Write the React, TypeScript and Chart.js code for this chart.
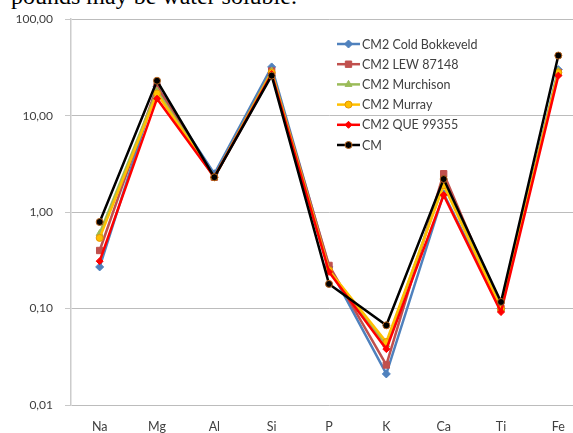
import React, { useEffect, useRef } from "react";
import { Chart, registerables } from "chart.js";
import { drawPoint } from "chart.js/helpers";

Chart.register(...registerables);

const categories = ["Na", "Mg", "Al", "Si", "P", "K", "Ca", "Ti", "Fe"];
const coldBokkeveld = [0.27, 20, 2.5, 32, 0.27, 0.021, 1.55, 0.1, 30];
const lew87148 = [0.4, 20, 2.3, 29, 0.28, 0.026, 2.5, 0.1, 28];
const murchison = [0.6, 18, 2.3, 29, 0.25, 0.042, 2.0, 0.1, 29];
const murray = [0.54, 17, 2.3, 28, 0.25, 0.045, 1.9, 0.1, 28];
const que99355 = [0.31, 15, 2.3, 27, 0.24, 0.038, 1.5, 0.092, 26];
const cm = [0.79, 23, 2.3, 26, 0.18, 0.067, 2.2, 0.117, 42];
const yTicks = [0.01, 0.1, 1, 10, 100];

const seriesNames = [
  "CM2 Cold Bokkeveld",
  "CM2 LEW 87148",
  "CM2 Murchison",
  "CM2 Murray",
  "CM2 QUE 99355",
  "CM",
];

const FONT = "Lato, 'Open Sans', sans-serif";

export default function App() {
  const ref = useRef<HTMLCanvasElement | null>(null);

  useEffect(() => {
    const canvas = ref.current;
    if (!canvas) return;
    const styles = [
      { c: "#4f81bd", b: "#4f81bd", s: "rectRot", r: 4 },
      { c: "#c0504d", b: "#c0504d", s: "rect", r: 4.5 },
      { c: "#9bbb59", b: "#9bbb59", s: "triangle", r: 4 },
      { c: "#ffc000", b: "#e69500", s: "circle", r: 3.5 },
      { c: "#ff0000", b: "#ff0000", s: "rectRot", r: 3.5 },
      { c: "#000000", b: "#b8651e", s: "circle", r: 3.5 },
    ];
    const values = [coldBokkeveld, lew87148, murchison, murray, que99355, cm];
    const datasets = values.map((d, i) => ({
      label: seriesNames[i],
      data: d,
      borderColor: styles[i].c,
      backgroundColor: styles[i].c,
      pointBackgroundColor: styles[i].c,
      pointBorderColor: styles[i].b,
      pointBorderWidth: 1,
      pointStyle: styles[i].s as any,
      pointRadius: styles[i].r,
      borderWidth: 2.5,
      tension: 0,
      order: 5 - i,
    }));

    const legendPlugin = {
      id: "customLegend",
      afterDraw(chart: any) {
        const ctx = chart.ctx;
        ctx.save();
        const x0 = 337;
        const y0 = 44;
        const dy = 20.2;
        datasets.forEach((ds, i) => {
          const y = y0 + i * dy;
          ctx.strokeStyle = ds.borderColor;
          ctx.lineWidth = 2.5;
          ctx.beginPath();
          ctx.moveTo(x0, y);
          ctx.lineTo(x0 + 23, y);
          ctx.stroke();
          ctx.fillStyle = ds.pointBackgroundColor;
          ctx.strokeStyle = ds.pointBorderColor;
          ctx.lineWidth = 1;
          drawPoint(ctx, { pointStyle: ds.pointStyle, radius: ds.pointRadius, rotation: 0, borderWidth: 1 } as any, x0 + 11.5, y);
          ctx.fillStyle = "#404040";
          ctx.font = `12.5px ${FONT}`;
          ctx.textBaseline = "middle";
          ctx.textAlign = "left";
          ctx.fillText(ds.label, x0 + 25, y + 0.5);
        });
        ctx.restore();
      },
    };

    const chart = new Chart(canvas, {
      type: "line",
      data: { labels: categories, datasets },
      plugins: [legendPlugin],
      options: {
        animation: false,
        responsive: false,
        devicePixelRatio: 1,
        layout: { padding: { left: 0, right: 13, top: 19, bottom: 0 } },
        plugins: { legend: { display: false }, tooltip: { enabled: false } },
        scales: {
          x: {
            offset: true,
            grid: { display: false, drawTicks: false },
            border: { display: false },
            ticks: { color: "#404040", font: { family: FONT, size: 12.5 }, padding: 14, maxRotation: 0 },
            afterFit: (s: any) => {
              s.height = 28;
            },
          },
          y: {
            type: "logarithmic",
            min: 0.01,
            max: 100,
            afterBuildTicks: (s: any) => {
              s.ticks = yTicks.map((v) => ({ value: v }));
            },
            afterFit: (s: any) => {
              s.width = 71;
            },
            grid: {
              color: "#bcbcbc",
              lineWidth: 1,
              borderDash: [2, 2],
              tickLength: 6,
              tickColor: "#c8c8c8",
              tickBorderDash: [],
            } as any,
            border: { display: true, color: "#cccccc", width: 1.5 },
            ticks: {
              color: "#404040",
              font: { family: FONT, size: 12 },
              padding: 12,
              autoSkip: false,
              callback: (v: any) => Number(v).toFixed(2).replace(".", ","),
            },
          },
        },
      },
    });
    return () => chart.destroy();
  }, []);

  return (
    <div
      style={{
        position: "fixed",
        left: 0,
        top: 0,
        width: 573,
        height: 433,
        overflow: "hidden",
        background: "#ffffff",
      }}
    >
      <div
        style={{
          position: "absolute",
          left: 11,
          top: -16,
          fontFamily: "'Liberation Serif', 'Times New Roman', serif",
          fontSize: 24,
          lineHeight: "24px",
          whiteSpace: "nowrap",
          color: "#000",
        }}
      >
        pounds may be water soluble.
      </div>
      <canvas
        ref={ref}
        width={600}
        height={433}
        style={{ position: "absolute", left: 0, top: 0, display: "block" }}
      />
    </div>
  );
}
